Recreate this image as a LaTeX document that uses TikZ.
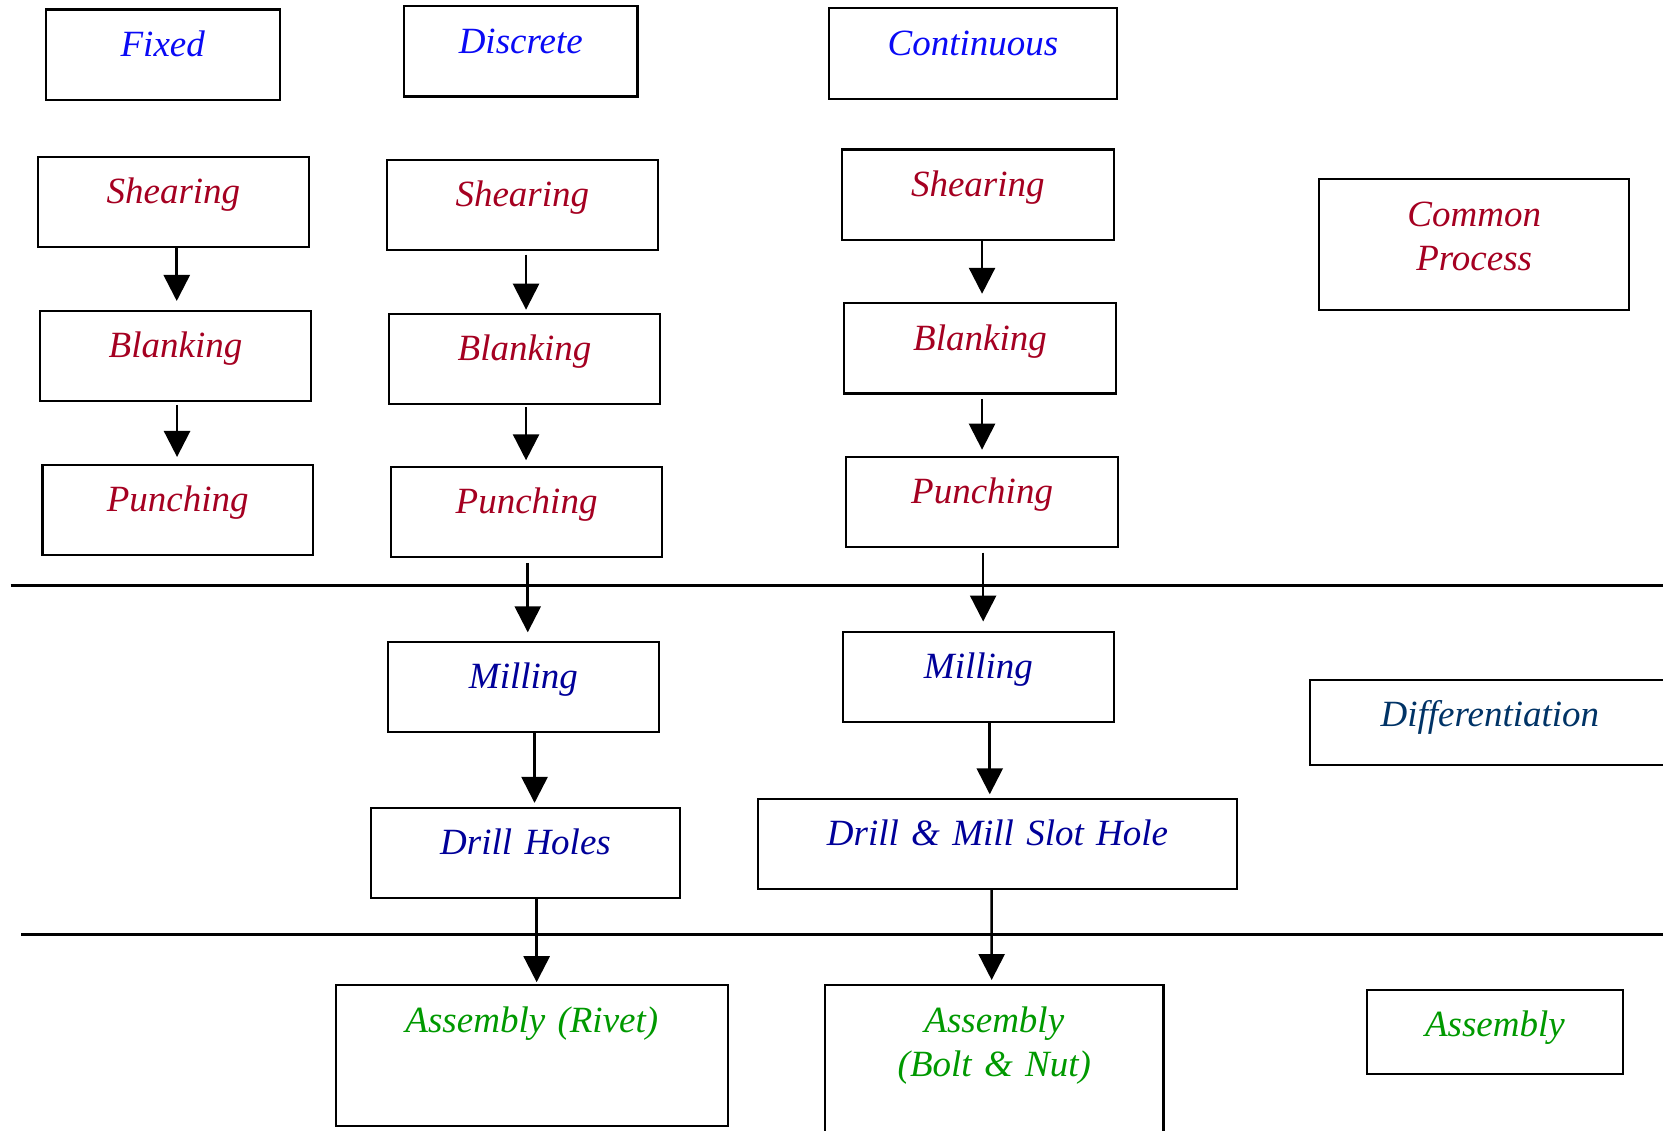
\documentclass[tikz,border=0pt]{standalone}
\usepackage{fontspec}
\setmainfont{Liberation Serif}
\usetikzlibrary{arrows.meta}

\definecolor{hdrblue}{RGB}{10,10,245}
\definecolor{stepred}{RGB}{165,0,33}
\definecolor{machblue}{RGB}{0,0,153}
\definecolor{diffblue}{RGB}{0,51,102}
\definecolor{asmgreen}{RGB}{0,153,0}

\tikzset{
  % box with its text set near the top: width, depth below first baseline, text colour
  bx/.style n args={3}{draw=black, line width=2.1pt, anchor=north west,
    inner sep=0pt, minimum width=#1, text width=#1, align=center,
    text height=46.8pt, text depth=#2, text=#3,
    font=\itshape\fontsize{37}{44.6}\selectfont},
  arr/.style={line width=2.6pt, -{Triangle[length=26pt,width=26pt]}},
  sep/.style={line width=3.4pt},
}

\begin{document}
\begin{tikzpicture}[x=1pt,y=-1pt]
\useasboundingbox (0,0) rectangle (1663,1131);
\fill[white] (0,0) rectangle (1663,1131);
\clip (0,0) rectangle (1663,1131);

% column headings
\node[bx={234.4pt}{43.3pt}{hdrblue}] (fix) at (44.5,8.5) {Fixed};
\node[bx={233.4pt}{43.4pt}{hdrblue}] (dis) at (403,5.3) {Discrete};
\node[bx={287.4pt}{43.4pt}{hdrblue}] (con) at (828.3,7.4) {Continuous};

% common process steps
\node[bx={270.5pt}{43.4pt}{stepred}] (sh1) at (37.1,155.9) {Shearing};
\node[bx={270.5pt}{43.4pt}{stepred}] (bl1) at (39.2,309.7) {Blanking};
\node[bx={270.5pt}{43.4pt}{stepred}] (pu1) at (41.4,463.5) {Punching};

\node[bx={270.5pt}{43.4pt}{stepred}] (sh2) at (386,159.1) {Shearing};
\node[bx={270.5pt}{43.4pt}{stepred}] (bl2) at (388.2,312.9) {Blanking};
\node[bx={270.5pt}{43.4pt}{stepred}] (pu2) at (390.3,465.6) {Punching};

\node[bx={271.5pt}{43.4pt}{stepred}] (sh3) at (841,148.5) {Shearing};
\node[bx={271.5pt}{43.4pt}{stepred}] (bl3) at (843.2,302.3) {Blanking};
\node[bx={271.5pt}{43.4pt}{stepred}] (pu3) at (845.3,456) {Punching};

\node[bx={309.7pt}{83.7pt}{stepred}] (cp) at (1318.3,178.2) {Common\\Process};

% differentiation steps
\node[bx={270.5pt}{43.4pt}{machblue}] (mi2) at (387.1,640.6) {Milling};
\node[bx={270.5pt}{43.4pt}{machblue}] (mi3) at (842.1,631) {Milling};
\node[bx={308.6pt}{43.4pt}{machblue}] (dh) at (370.2,807.1) {Drill Holes};
\node[bx={478.3pt}{43.3pt}{machblue}] (dm) at (757.3,797.6) {Drill \& Mill Slot Hole};
\node[bx={360pt}{38pt}{diffblue}] (dif) at (1308.8,678.8) {Differentiation};

% assembly
\node[bx={391.4pt}{94.3pt}{asmgreen}] (ar) at (335.1,984.2) {Assembly (Rivet)};
\node[bx={338.3pt}{113.2pt}{asmgreen}] (ab) at (824.1,984.2) {Assembly\\(Bolt \& Nut)};
\node[bx={255.7pt}{38pt}{asmgreen}] (as) at (1366,988.5) {Assembly};

% stage separators
\draw[sep] (10.6,585.5) -- (1663,585.5);
\draw[sep] (21.2,934.4) -- (1663,934.4);

% flow arrows
\draw[arr, shorten >=8.7pt] ([xshift=3.35pt]sh1.south) -- ([xshift=1.25pt]bl1.north);
\draw[arr, shorten <=3pt, shorten >=6.5pt] ([xshift=1.55pt]bl1.south) -- ([xshift=-0.65pt]pu1.north);

\draw[arr, shorten <=3.2pt, shorten >=3.2pt] ([xshift=3.75pt]sh2.south) -- ([xshift=1.55pt]bl2.north);
\draw[arr, shorten <=2pt, shorten >=5.3pt] ([xshift=1.55pt]bl2.south) -- ([xshift=-0.55pt]pu2.north);
\draw[arr, shorten <=5pt, shorten >=8.3pt] ([xshift=1.15pt]pu2.south) -- ([xshift=4.35pt]mi2.north);
\draw[arr, shorten >=4.2pt] ([xshift=11.15pt]mi2.south) -- ([xshift=9pt]dh.north);
\draw[arr, shorten >=2pt] ([xshift=11.1pt]dh.south) -- ([xshift=4.8pt]ar.north);

\draw[arr, shorten >=8.5pt] ([xshift=4.25pt]sh3.south) -- ([xshift=2.05pt]bl3.north);
\draw[arr, shorten <=4.3pt, shorten >=6.3pt] ([xshift=2.05pt]bl3.south) -- ([xshift=-0.05pt]pu3.north);
\draw[arr, shorten <=4.2pt, shorten >=9.5pt] ([xshift=1.05pt]pu3.south) -- ([xshift=4.75pt]mi3.north);
\draw[arr, shorten >=3.3pt] ([xshift=11.35pt]mi3.south) -- ([xshift=-7.75pt]dm.north);
\draw[arr, shorten >=4.2pt] ([xshift=-5.85pt]dm.south) -- ([xshift=-2.65pt]ab.north);
\end{tikzpicture}
\end{document}
